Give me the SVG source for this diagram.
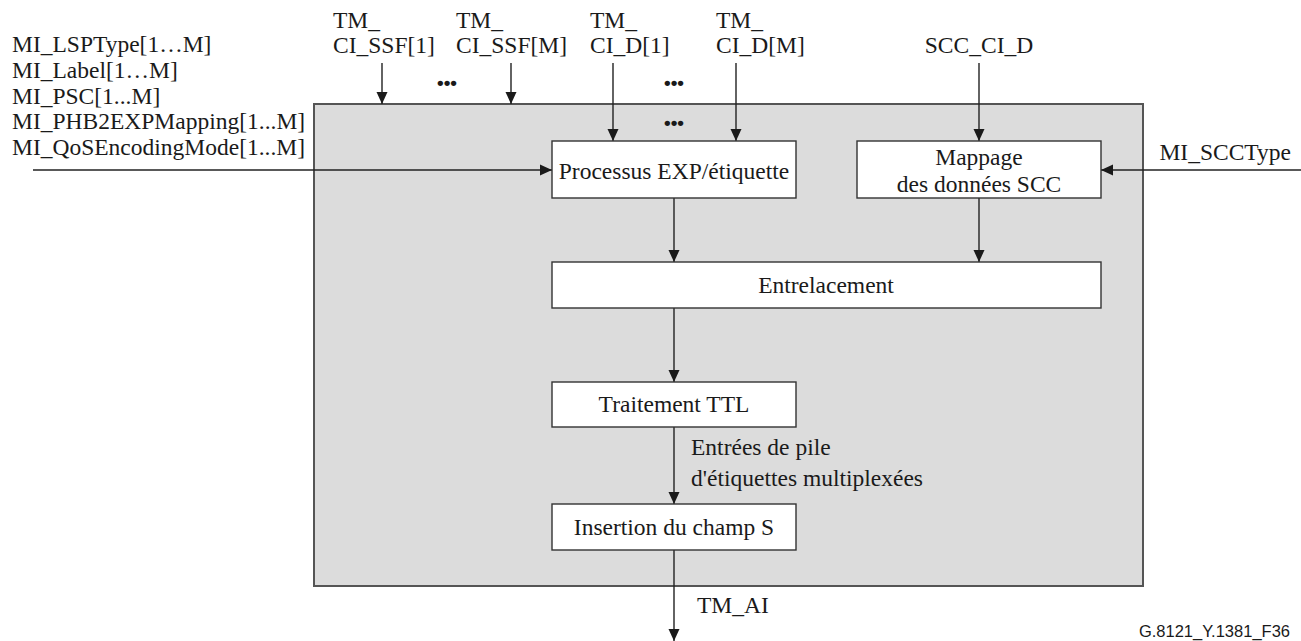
<svg xmlns="http://www.w3.org/2000/svg" width="1301" height="641" viewBox="0 0 1301 641">
  <style>
    .t { font-family: "Liberation Serif", "Times New Roman", serif; font-size: 23.5px; fill: #1a1a1a; }
    .c { text-anchor: middle; }
    .e { text-anchor: end; }
    .dots { font-family: "Liberation Sans", Arial, sans-serif; font-size: 19px; font-weight: bold; fill: #1a1a1a; text-anchor: middle; }
    .foot { font-family: "Liberation Sans", Arial, sans-serif; font-size: 16.5px; fill: #1a1a1a; text-anchor: end; }
    .box { fill: #ffffff; stroke: #333333; stroke-width: 1.4; }
    .frame { fill: #dcdcdc; stroke: #555555; stroke-width: 2; }
    .wire { fill: none; stroke: #222222; stroke-width: 1.4; marker-end: url(#arrow); }
  </style>
  <defs>
    <marker id="arrow" markerUnits="userSpaceOnUse" markerWidth="12" markerHeight="12" refX="12" refY="6" orient="auto">
      <path d="M0,0.5 L12,6 L0,11.5 z" fill="#1a1a1a"/>
    </marker>
  </defs>
  <rect width="1301" height="641" fill="#ffffff"/>

  <!-- enclosing function block -->
  <g id="block">
    <rect class="frame" x="314" y="104" width="829" height="482"/>
  </g>

  <!-- connectors -->
  <g id="connectors">
    <line class="wire" x1="382" y1="63" x2="382" y2="104"/>
    <line class="wire" x1="511" y1="63" x2="511" y2="104"/>
    <line class="wire" x1="613" y1="63" x2="613" y2="141"/>
    <line class="wire" x1="736" y1="63" x2="736" y2="141"/>
    <line class="wire" x1="979" y1="63" x2="979" y2="141"/>
    <line class="wire" x1="33" y1="170" x2="552" y2="170"/>
    <line class="wire" x1="1301" y1="170" x2="1101" y2="170"/>
    <line class="wire" x1="674" y1="198" x2="674" y2="262"/>
    <line class="wire" x1="979" y1="198" x2="979" y2="262"/>
    <line class="wire" x1="674" y1="308" x2="674" y2="382"/>
    <line class="wire" x1="674" y1="427" x2="674" y2="504"/>
    <line class="wire" x1="674" y1="550" x2="674" y2="641"/>
  </g>

  <!-- management inputs -->
  <g id="mi-inputs">
    <text class="t" x="12" y="52">MI_LSPType[1…M]</text>
    <text class="t" x="12" y="78">MI_Label[1…M]</text>
    <text class="t" x="12" y="104">MI_PSC[1...M]</text>
    <text class="t" x="12" y="129">MI_PHB2EXPMapping[1...M]</text>
    <text class="t" x="12" y="155">MI_QoSEncodingMode[1...M]</text>
    <text class="t e" x="1291" y="160">MI_SCCType</text>
  </g>

  <!-- characteristic information inputs -->
  <g id="ci-inputs">
    <text class="t" x="333" y="28">TM_</text>
    <text class="t" x="333" y="53">CI_SSF[1]</text>
    <text class="t" x="456" y="28">TM_</text>
    <text class="t" x="456" y="53">CI_SSF[M]</text>
    <text class="t" x="590" y="28">TM_</text>
    <text class="t" x="590" y="53">CI_D[1]</text>
    <text class="t" x="716" y="28">TM_</text>
    <text class="t" x="716" y="53">CI_D[M]</text>
    <text class="t c" x="979" y="53">SCC_CI_D</text>
    <text class="dots" x="447" y="89">•••</text>
    <text class="dots" x="674" y="89">•••</text>
    <text class="dots" x="674" y="129">•••</text>
  </g>

  <g id="exp-label">
    <rect class="box" x="552" y="141" width="244" height="57"/>
    <text class="t c" x="674" y="179">Processus EXP/étiquette</text>
  </g>

  <g id="scc-mapping">
    <rect class="box" x="857" y="141" width="244" height="57"/>
    <text class="t c" x="979" y="165">Mappage</text>
    <text class="t c" x="979" y="192">des données SCC</text>
  </g>

  <g id="interleave">
    <rect class="box" x="552" y="262" width="549" height="46"/>
    <text class="t c" x="826" y="293">Entrelacement</text>
  </g>

  <g id="ttl">
    <rect class="box" x="552" y="382" width="244" height="45"/>
    <text class="t c" x="674" y="412">Traitement TTL</text>
  </g>

  <g id="s-field">
    <rect class="box" x="552" y="504" width="244" height="46"/>
    <text class="t c" x="674" y="535">Insertion du champ S</text>
  </g>

  <!-- connector labels -->
  <g id="labels">
    <text class="t" x="691" y="455">Entrées de pile</text>
    <text class="t" x="691" y="486">d'étiquettes multiplexées</text>
    <text class="t" x="697" y="613">TM_AI</text>
    <text class="foot" x="1290" y="637">G.8121_Y.1381_F36</text>
  </g>
</svg>
